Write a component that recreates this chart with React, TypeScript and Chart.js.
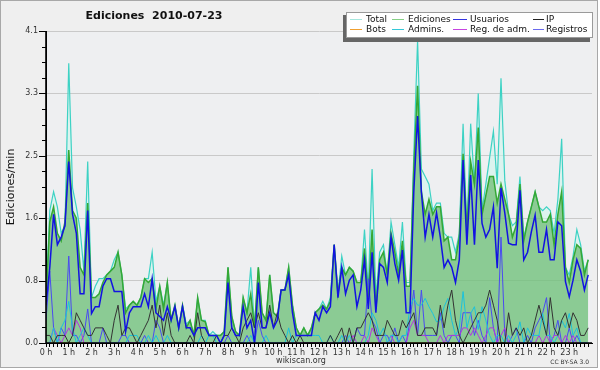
import React, { useEffect, useRef } from 'react';
import { Chart, registerables } from 'chart.js';

Chart.register(...registerables);

const chartTitle = 'Ediciones  2010-07-23';
const yAxisTitle = 'Ediciones/min';
const footerText = 'wikiscan.org';
const licenseText = 'CC BY-SA 3.0';

const hourLabels = [
  '0 h', '1 h', '2 h', '3 h', '4 h', '5 h', '6 h', '7 h', '8 h', '9 h', '10 h', '11 h',
  '12 h', '13 h', '14 h', '15 h', '16 h', '17 h', '18 h', '19 h', '20 h', '21 h', '22 h', '23 h',
];
const yTickLabels = ['0.0', '0.8', '1.6', '2.5', '3.3', '4.1'];
const yMax = 4.125;

// one value per 10 minutes (6 per hour), edits per minute
const total = [
  0.6, 1.75, 2.0, 1.8, 1.45, 1.55,
  3.7, 2.05, 1.8, 1.5, 0.95, 2.4,
  0.6, 0.75, 0.85, 0.85, 0.9, 0.95,
  1.1, 1.2, 0.9, 0.45, 0.5, 0.55,
  0.5, 0.6, 0.85, 0.85, 1.2, 0.55,
  0.75, 0.5, 0.8, 0.3, 0.5, 0.2,
  0.5, 0.25, 0.3, 0.1, 0.6, 0.3,
  0.3, 0.1, 0.15, 0.1, 0.1, 0.15,
  1.0, 0.35, 0.15, 0.1, 0.6, 0.4,
  1.0, 0.2, 1.0, 0.4, 0.3, 0.9,
  0.4, 0.35, 0.7, 0.7, 1.0, 0.5,
  0.2, 0.1, 0.2, 0.1, 0.2, 0.4,
  0.45, 0.55, 0.45, 0.6, 1.3, 0.65,
  1.15, 0.9, 1.0, 0.95, 0.8, 0.8,
  1.5, 0.7, 2.3, 0.6, 1.2, 1.3,
  0.9, 1.6, 1.3, 1.0, 1.6, 0.8,
  0.8, 2.5, 4.0, 2.3, 2.2, 2.1,
  1.75, 1.85, 1.85, 1.45, 1.4, 1.4,
  1.2, 1.45, 2.9, 1.5, 2.9, 2.1,
  3.3, 1.75, 2.1, 2.45, 2.8, 2.1,
  3.5, 2.15, 1.7, 1.55, 1.6, 2.2,
  1.4, 1.6, 1.8, 2.0, 1.8, 1.75,
  1.8, 1.75, 1.45, 1.9, 2.7, 1.0,
  0.9, 1.15, 1.5, 1.3, 0.95, 1.1,
];

const ediciones = [
  0.55, 1.6, 1.8, 1.45, 1.35, 1.6,
  2.55, 1.75, 1.65, 1.0, 0.9, 1.85,
  0.6, 0.6, 0.65, 0.8, 0.9, 0.95,
  1.0, 1.2, 0.9, 0.4, 0.5, 0.55,
  0.5, 0.6, 0.85, 0.8, 0.85, 0.45,
  0.75, 0.45, 0.8, 0.3, 0.5, 0.2,
  0.5, 0.2, 0.3, 0.1, 0.6, 0.3,
  0.28, 0.1, 0.1, 0.1, 0.1, 0.15,
  1.0, 0.35, 0.15, 0.1, 0.6, 0.4,
  0.65, 0.2, 1.0, 0.4, 0.3, 0.9,
  0.4, 0.35, 0.7, 0.7, 1.0, 0.5,
  0.2, 0.1, 0.2, 0.1, 0.2, 0.4,
  0.45, 0.5, 0.45, 0.55, 1.3, 0.65,
  1.0, 0.9, 1.0, 0.95, 0.8, 0.8,
  1.25, 0.6, 1.5, 0.45, 1.1, 1.2,
  0.9, 1.45, 1.2, 0.9, 1.35, 0.75,
  0.75, 2.3, 3.4, 2.0, 1.7, 1.9,
  1.7, 1.8, 1.8, 1.35, 1.4, 1.1,
  1.1, 1.4, 2.5, 1.5, 2.4, 2.1,
  2.85, 1.7, 1.95, 2.2, 2.2, 1.85,
  2.1, 1.9, 1.7, 1.4, 1.55, 2.1,
  1.35, 1.6, 1.8, 2.0, 1.8, 1.6,
  1.6, 1.7, 1.3, 1.7, 2.0, 1.0,
  0.8, 1.1, 1.3, 1.25, 0.9, 1.1,
];

const usuarios = [
  0.5, 1.0, 1.7, 1.3, 1.4, 1.55,
  2.4, 1.7, 1.45, 0.65, 0.65, 1.75,
  0.39, 0.48, 0.48, 0.75, 0.85, 0.85,
  0.68, 0.68, 0.68, 0.15, 0.4, 0.48,
  0.48, 0.48, 0.65, 0.48, 0.85, 0.4,
  0.35, 0.3, 0.48, 0.3, 0.48, 0.2,
  0.48, 0.2, 0.2, 0.1, 0.2, 0.2,
  0.2, 0.1, 0.1, 0.1, 0.0, 0.1,
  0.8, 0.2, 0.1, 0.1, 0.48, 0.2,
  0.3, 0.0, 0.8, 0.2, 0.2, 0.4,
  0.2, 0.3, 0.7, 0.7, 0.9, 0.4,
  0.1, 0.1, 0.1, 0.1, 0.1, 0.4,
  0.3, 0.48, 0.4, 0.48, 1.3, 0.6,
  1.0, 0.65, 0.83, 0.9, 0.48, 0.7,
  1.1, 0.45, 1.2, 0.4, 1.05, 1.0,
  0.8, 1.4, 1.05, 0.83, 1.23, 0.4,
  0.4, 2.0, 3.0, 2.0, 1.4, 1.7,
  1.4, 1.72, 1.4, 1.0, 1.1, 1.0,
  0.8, 1.1, 2.42, 1.3, 2.22, 1.3,
  2.42, 1.58, 1.4, 1.5, 1.8, 0.99,
  2.05, 1.72, 1.32, 1.3, 1.3, 2.02,
  1.1, 1.2, 1.47, 1.69, 1.2, 1.2,
  1.5, 1.1, 1.1, 1.6, 1.55, 0.81,
  0.61, 0.83, 1.1, 0.95, 0.7, 0.9,
];

const ip = [
  0.1, 0.1, 0.0, 0.1, 0.1, 0.1,
  0.0, 0.1, 0.4, 0.3, 0.2, 0.1,
  0.1, 0.2, 0.2, 0.2, 0.1, 0.0,
  0.3, 0.5, 0.1, 0.2, 0.2, 0.1,
  0.0, 0.1, 0.2, 0.3, 0.5, 0.2,
  0.5, 0.1, 0.4, 0.1, 0.0, 0.0,
  0.0, 0.0, 0.1, 0.0, 0.4, 0.1,
  0.0, 0.0, 0.0, 0.1, 0.0, 0.1,
  0.1, 0.2, 0.1, 0.0, 0.2, 0.3,
  0.4, 0.2, 0.4, 0.2, 0.2, 0.5,
  0.2, 0.4, 0.2, 0.1, 0.0, 0.1,
  0.0, 0.1, 0.0, 0.0, 0.0, 0.0,
  0.0, 0.0, 0.0, 0.1, 0.0, 0.1,
  0.2, 0.0, 0.2, 0.0, 0.2, 0.2,
  0.3, 0.4, 0.3, 0.1, 0.1, 0.1,
  0.3, 0.2, 0.1, 0.1, 0.3, 0.2,
  0.3, 0.4, 0.1, 0.1, 0.2, 0.2,
  0.2, 0.1, 0.5, 0.2, 0.5, 0.7,
  0.3, 0.1, 0.0, 0.1, 0.2, 0.3,
  0.4, 0.4, 0.5, 0.7, 0.5, 0.3,
  0.0, 0.0, 0.4, 0.1, 0.2, 0.1,
  0.2, 0.0, 0.1, 0.3, 0.5, 0.3,
  0.1, 0.6, 0.2, 0.1, 0.3, 0.4,
  0.2, 0.4, 0.3, 0.1, 0.1, 0.2,
];

const bots = [
  0, 0, 0, 0, 0, 0, 0, 0, 0, 0, 0, 0,
  0, 0, 0, 0, 0, 0, 0, 0, 0, 0, 0, 0,
  0, 0, 0, 0, 0, 0, 0, 0, 0, 0, 0, 0,
  0, 0, 0, 0, 0, 0, 0, 0, 0, 0, 0, 0,
  0, 0, 0, 0, 0, 0, 0, 0, 0, 0, 0, 0,
  0, 0, 0, 0, 0, 0, 0, 0, 0, 0, 0, 0,
  0, 0, 0, 0, 0, 0, 0, 0, 0, 0, 0, 0,
  0, 0, 0, 0, 0, 0, 0, 0, 0, 0, 0, 0,
  0, 0, 0, 0, 0, 0, 0, 0, 0, 0, 0, 0,
  0, 0, 0, 0, 0, 0, 0, 0, 0, 0, 0, 0,
  0, 0, 0, 0, 0, 0, 0, 0, 0, 0, 0, 0,
  0, 0, 0, 0, 0, 0, 0, 0, 0, 0, 0, 0,
];

const admins = [
  0.0, 0.0, 0.2, 0.0, 0.2, 0.3,
  0.55, 0.2, 0.0, 0.1, 0.2, 0.1,
  0.0, 0.0, 0.0, 0.0, 0.0, 0.0,
  0.0, 0.0, 0.0, 0.0, 0.1, 0.1,
  0.1, 0.0, 0.0, 0.1, 0.0, 0.1,
  0.0, 0.0, 0.1, 0.0, 0.0, 0.0,
  0.0, 0.0, 0.0, 0.0, 0.0, 0.1,
  0.0, 0.1, 0.1, 0.0, 0.0, 0.0,
  0.0, 0.0, 0.0, 0.0, 0.0, 0.0,
  0.1, 0.0, 0.0, 0.0, 0.1, 0.0,
  0.0, 0.0, 0.0, 0.0, 0.2, 0.0,
  0.1, 0.1, 0.1, 0.1, 0.1, 0.1,
  0.1, 0.0, 0.0, 0.1, 0.0, 0.0,
  0.1, 0.0, 0.1, 0.0, 0.0, 0.0,
  0.0, 0.1, 0.4, 0.3, 0.1, 0.2,
  0.0, 0.1, 0.1, 0.0, 0.1, 0.1,
  0.48, 0.59, 0.5, 0.5, 0.59, 0.48,
  0.39, 0.28, 0.3, 0.48, 0.59, 0.3,
  0.1, 0.2, 0.68, 0.2, 0.39, 0.48,
  0.18, 0.48, 0.3, 0.1, 0.0, 0.1,
  0.1, 0.0, 0.1, 0.0, 0.1, 0.28,
  0.0, 0.2, 0.1, 0.1, 0.1, 0.39,
  0.1, 0.1, 0.0, 0.1, 0.3, 0.2,
  0.39, 0.1, 0.2, 0.0, 0.0, 0.0,
];

const regAdm = [
  0.0, 0.0, 0.2, 0.1, 0.0, 0.1,
  0.2, 0.1, 0.3, 0.2, 0.0, 0.0,
  0, 0, 0, 0, 0, 0,
  0, 0, 0, 0, 0, 0,
  0, 0, 0, 0, 0, 0,
  0, 0, 0, 0, 0, 0,
  0, 0, 0, 0, 0, 0,
  0, 0, 0, 0, 0, 0,
  0, 0, 0, 0, 0, 0,
  0, 0, 0, 0, 0, 0,
  0, 0, 0, 0, 0, 0,
  0, 0, 0, 0, 0, 0,
  0, 0, 0, 0, 0, 0,
  0.0, 0.0, 0.0, 0.1, 0.0, 0.0,
  0.1, 0.0, 0.2, 0.1, 0.0, 0.0,
  0.0, 0.1, 0.0, 0.0, 0.0, 0.0,
  0.2, 0.3, 0.1, 0.1, 0.1, 0.0,
  0.0, 0.0, 0.1, 0.0, 0.1, 0.1,
  0.1, 0.1, 0.2, 0.2, 0.1, 0.2,
  0.1, 0.0, 0.1, 0.2, 0.2, 0.0,
  0.1, 0.2, 0.0, 0.0, 0.0, 0.0,
  0.0, 0.0, 0.0, 0.0, 0.1, 0.0,
  0.1, 0.0, 0.1, 0.1, 0.0, 0.1,
  0.0, 0.1, 0.0, 0.0, 0.0, 0.0,
];

const registros = [
  0.3, 0.95, 0.2, 0.0, 0.2, 0.1,
  1.15, 0.1, 0.1, 0.0, 0.1, 0.45,
  0.0, 0.0, 0.0, 0.2, 0.0, 0.0,
  0.0, 0.0, 0.1, 0.1, 0.0, 0.0,
  0.0, 0.0, 0.1, 0.0, 0.0, 0.3,
  0.2, 0.0, 0.0, 0.0, 0.0, 0.0,
  0, 0, 0, 0, 0, 0,
  0, 0, 0, 0, 0, 0,
  0.1, 0.0, 0.0, 0.0, 0.0, 0.1,
  0.0, 0.0, 0.3, 0.1, 0.0, 0.0,
  0, 0, 0, 0, 0, 0,
  0, 0, 0, 0, 0, 0,
  0, 0, 0, 0, 0, 0,
  0.0, 0.1, 0.0, 0.0, 0.2, 0.1,
  0.1, 0.85, 0.3, 0.2, 0.0, 0.1,
  0.1, 0.0, 0.2, 0.0, 0.1, 0.0,
  0.3, 0.7, 0.1, 0.7, 0.1, 0.1,
  0.1, 0.1, 0.4, 0.1, 0.0, 0.1,
  0.1, 0.0, 0.4, 0.4, 0.4, 0.1,
  0.3, 0.1, 0.0, 0.6, 0.2, 0.0,
  1.4, 0.1, 0.0, 0.1, 0.2, 0.0,
  0.0, 0.1, 0.0, 0.2, 0.3, 0.4,
  0.6, 0.0, 0.1, 0.3, 0.0, 0.0,
  0.2, 0.0, 0.1, 0.0, 0.0, 0.0,
];

type Series = {
  label: string; data: number[]; color: string; swatch: string;
  width: number; fill: string | null; order: number;
};

const seriesList: Series[] = [
  { label: 'Total', data: total, color: '#3dd2c4', swatch: '#a6e7de', width: 1.2, fill: 'rgba(205,246,236,0.55)', order: 10 },
  { label: 'Ediciones', data: ediciones, color: '#35a835', swatch: '#86d086', width: 1.5, fill: 'rgba(58,164,58,0.5)', order: 9 },
  { label: 'Usuarios', data: usuarios, color: '#1212e2', swatch: '#3434e0', width: 1.5, fill: null, order: 1 },
  { label: 'IP', data: ip, color: '#333333', swatch: '#222222', width: 1, fill: null, order: 4 },
  { label: 'Bots', data: bots, color: '#f0a030', swatch: '#f0a030', width: 1, fill: null, order: 8 },
  { label: 'Admins.', data: admins, color: '#1cc2dc', swatch: '#34c8d8', width: 1, fill: null, order: 5 },
  { label: 'Reg. de adm.', data: regAdm, color: '#b434e2', swatch: '#c644e0', width: 1, fill: null, order: 6 },
  { label: 'Registros', data: registros, color: '#4a4af2', swatch: '#6a6aee', width: 1, fill: null, order: 7 },
];

// legend layout: [lineStart, lineEnd, textX] per column, two rows
const legendCols = [[350, 362, 366], [392, 404, 408], [453, 467, 470], [533, 544, 546]];
const legendRows = [19, 29];

const decorPlugin = {
  id: 'decor',
  beforeDraw(chart: any) {
    const { ctx, chartArea: a } = chart;
    ctx.save();
    ctx.fillStyle = '#ffffff';
    ctx.fillRect(0, 0, chart.width, chart.height);
    ctx.fillStyle = '#efefef';
    ctx.fillRect(0, 0, 598, 368);
    ctx.fillStyle = '#eeeff1';
    ctx.fillRect(a.left, a.top, a.right - a.left, a.bottom - a.top);
    ctx.restore();
  },
  afterDatasetsDraw(chart: any) {
    const { ctx, chartArea: a, scales } = chart;
    ctx.save();
    ctx.strokeStyle = '#000';
    ctx.lineWidth = 1.6;
    ctx.beginPath();
    ctx.moveTo(a.left, a.top);
    ctx.lineTo(a.left, a.bottom + 0.8);
    ctx.moveTo(a.left, a.bottom);
    ctx.lineTo(a.right, a.bottom);
    ctx.stroke();
    ctx.lineWidth = 1;
    ctx.beginPath();
    scales.y.ticks.forEach((t: any, k: number) => {
      const py = Math.round(scales.y.getPixelForValue(t.value)) + 0.5;
      const len = k % 4 === 0 ? 7 : 4;
      ctx.moveTo(a.left - len, py);
      ctx.lineTo(a.left, py);
    });
    ctx.stroke();
    ctx.restore();
  },
  afterDraw(chart: any) {
    const { ctx, chartArea: a } = chart;
    ctx.save();
    // title
    ctx.fillStyle = '#111';
    ctx.font = 'bold 11px "DejaVu Sans"';
    ctx.textAlign = 'center';
    ctx.textBaseline = 'middle';
    ctx.fillText(chartTitle, 154, 16);
    // y axis title
    ctx.save();
    ctx.translate(11, (a.top + a.bottom) / 2);
    ctx.rotate(-Math.PI / 2);
    ctx.font = '11px "DejaVu Sans"';
    ctx.fillText(yAxisTitle, 0, 0);
    ctx.restore();
    // footer
    ctx.font = '8px "DejaVu Sans"';
    ctx.fillStyle = '#333';
    ctx.fillText(footerText, 301, 361);
    ctx.font = '6px "DejaVu Sans"';
    ctx.textAlign = 'right';
    ctx.fillText(licenseText, 589, 362);
    // legend
    ctx.fillStyle = '#666';
    ctx.fillRect(343, 15, 247, 27);
    ctx.fillStyle = '#ffffff';
    ctx.fillRect(346, 12, 247, 26);
    ctx.strokeStyle = '#9a9a9a';
    ctx.lineWidth = 1;
    ctx.strokeRect(346.5, 12.5, 246, 25);
    ctx.font = '9px "DejaVu Sans"';
    ctx.textAlign = 'left';
    ctx.textBaseline = 'middle';
    seriesList.forEach((s, i) => {
      const col = legendCols[i % 4];
      const y = legendRows[Math.floor(i / 4)];
      ctx.strokeStyle = s.swatch;
      ctx.beginPath();
      ctx.moveTo(col[0], y + 0.5);
      ctx.lineTo(col[1], y + 0.5);
      ctx.stroke();
      ctx.fillStyle = '#111';
      ctx.fillText(s.label, col[2], y + 0.5);
    });
    // frame
    ctx.strokeStyle = '#a8a8a8';
    ctx.strokeRect(0.5, 0.5, 597, 367);
    ctx.restore();
  },
};

export default function App() {
  const ref = useRef<HTMLCanvasElement>(null);
  useEffect(() => {
    const canvas = ref.current;
    if (!canvas) return;
    const datasets = seriesList.map((s) => ({
      label: s.label,
      data: s.data.map((v, i) => ({ x: i, y: v })),
      borderColor: s.color,
      borderWidth: s.width,
      backgroundColor: s.fill || s.color,
      fill: s.fill ? 'origin' : false,
      pointRadius: 0,
      tension: 0,
      order: s.order,
    }));
    const chart = new Chart(canvas, {
      type: 'line',
      data: { datasets },
      options: {
        responsive: false,
        devicePixelRatio: 1,
        animation: false,
        events: [],
        layout: { padding: { left: 0, right: 8, top: 31, bottom: 0 } },
        plugins: { legend: { display: false }, tooltip: { enabled: false }, title: { display: false } },
        scales: {
          x: {
            type: 'linear',
            min: 0,
            max: hourLabels.length * 6,
            afterBuildTicks: (s: any) => {
              s.ticks = Array.from({ length: hourLabels.length * 6 }, (_, i) => ({ value: i }));
            },
            afterFit: (s: any) => { s.height = 27; },
            grid: { drawOnChartArea: false, drawTicks: true, tickLength: 4, color: '#000', lineWidth: 1 },
            border: { display: true, color: '#000', width: 1 },
            ticks: {
              autoSkip: false, maxRotation: 0, minRotation: 0, padding: 1,
              font: { family: 'DejaVu Sans', size: 8 }, color: '#333',
              callback: (v: any) => (v % 6 === 0 ? hourLabels[v / 6] : ''),
            },
          },
          y: {
            type: 'linear',
            min: 0,
            max: yMax,
            afterBuildTicks: (s: any) => {
              const n = (yTickLabels.length - 1) * 4;
              s.ticks = Array.from({ length: n + 1 }, (_, k) => ({ value: (k * yMax) / n }));
            },
            afterFit: (s: any) => { s.width = 46; },
            grid: {
              drawTicks: false,
              lineWidth: 1,
              color: (c: any) => (c.index % 4 === 0 ? '#c9c9c9' : 'rgba(0,0,0,0)'),
            },
            border: { display: true, color: '#000', width: 1 },
            ticks: {
              autoSkip: false, padding: 8,
              font: { family: 'DejaVu Sans', size: 8 }, color: '#333',
              callback: (_v: any, i: number) => (i % 4 === 0 ? yTickLabels[i / 4] : ''),
            },
          },
        },
      },
      plugins: [decorPlugin],
    } as any);
    return () => chart.destroy();
  }, []);
  return (
    <div style={{ position: 'absolute', left: 0, top: 0, width: 600, height: 370 }}>
      <canvas ref={ref} width={600} height={370} style={{ display: 'block', width: 600, height: 370 }} />
    </div>
  );
}
